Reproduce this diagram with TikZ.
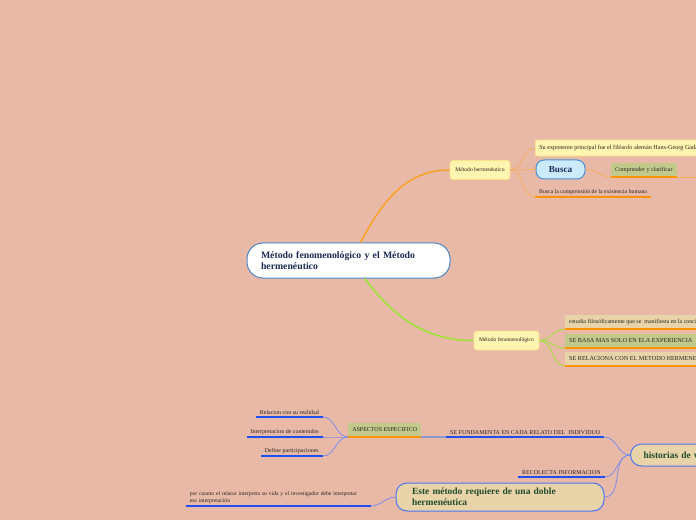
\documentclass[tikz,border=0pt]{standalone}
\usepackage{fontspec}
\setmainfont{Liberation Serif}
\definecolor{bg}{HTML}{E8B9A7}
\definecolor{navy}{HTML}{1B2A55}
\definecolor{dkgreen}{HTML}{1F4A2C}
\definecolor{cblue}{HTML}{4A86C8}
\definecolor{orng}{HTML}{F7A125}
\definecolor{orthin}{HTML}{F6AE55}
\definecolor{oul}{HTML}{FF9400}
\definecolor{lime}{HTML}{9AE62E}
\definecolor{yfill}{HTML}{FFF4B0}
\definecolor{ydraw}{HTML}{FCE38A}
\definecolor{bfill}{HTML}{CBEBFC}
\definecolor{bdraw}{HTML}{4C8FD6}
\definecolor{gfill}{HTML}{C2C98B}
\definecolor{tfill}{HTML}{E8D4A8}
\definecolor{bul}{HTML}{1E50F0}
\definecolor{bcurve}{HTML}{7F8FE8}
\definecolor{gline}{HTML}{8C9AD0}
\definecolor{txt}{HTML}{2B2320}
\newcommand\smallf{\fontsize{6}{7.5}\selectfont}
\begin{document}
\begin{tikzpicture}[x=1bp,y=-1bp,
  central/.style={draw=cblue,line width=1bp,fill=white,rounded corners=16bp,text width=175bp,align=left,inner xsep=14bp,minimum height=35bp,font=\bfseries\fontsize{9.8}{11.5}\selectfont,text=navy},
  ybox/.style={fill=yfill,draw=ydraw,line width=0.8bp,rounded corners=3bp,minimum height=19bp,inner xsep=3bp,font=\fontsize{5.6}{7}\selectfont,text=txt},
  sbox/.style={fill=yfill,draw=ydraw,line width=0.6bp,rounded corners=2bp,minimum height=16bp,inner xsep=4bp,font=\fontsize{6.2}{7.5}\selectfont,text=txt},
  bubox/.style={fill=bfill,draw=bdraw,line width=1bp,rounded corners=8bp,minimum width=49bp,minimum height=19bp,font=\bfseries\fontsize{9.2}{10}\selectfont,text=navy},
  gbox/.style={fill=gfill,minimum height=14bp,inner xsep=4bp,inner ysep=0bp,font=\smallf,text=txt},
  tbox/.style={fill=tfill,minimum height=14bp,inner xsep=4bp,inner ysep=0bp,font=\smallf,text=txt},
  ul/.style={inner xsep=4bp,inner ysep=2.5bp,font=\smallf,text=txt},
  hvbox/.style={fill=tfill,draw=bul!80!white,line width=1bp,rounded corners=11bp,font=\bfseries\fontsize{9.5}{11}\selectfont,text=dkgreen},
  omain/.style={draw=orng,line width=1.5bp},
  othin/.style={draw=orthin,line width=0.7bp},
  oline/.style={draw=oul,line width=1.8bp},
  lmain/.style={draw=lime,line width=1.5bp},
  lthin/.style={draw=lime,line width=0.7bp},
  bline/.style={draw=bul,line width=1.5bp},
  bthin/.style={draw=bcurve,line width=0.8bp}
]
\useasboundingbox (0,0) rectangle (696,520);
\clip (0,0) rectangle (696,520);
\fill[bg] (0,0) rectangle (696,520);

% central
\node[central] (c) at (348.5,260.5) {Método fenomenológico y el Método\\hermenéutico};

% hermeneutic branch
\node[ybox,minimum width=60bp] (mh) at (480,170) {Método hermenéutico};
\draw[omain] ([xshift=12bp]c.north) to[out=62,in=180] (mh.west);

\node[sbox,anchor=west] (se) at (535,148) {Su exponente principal fue el filósofo alemán Hans-Georg Gadamer};
\node[bubox] (bu) at (560.5,169.5) {Busca};
\node[gbox,minimum width=65bp,anchor=south west] (cc) at (611,177) {Comprender y clarificar};
\node[ul,anchor=south west,font=\fontsize{5.8}{7}\selectfont] (bl) at (535,197) {Busca la comprensión de la existencia humana};
\coordinate (ccr) at (696,177);

\draw[othin] (mh.east) to[out=0,in=180] (se.west);
\draw[othin] (mh.east) -- (bu.west);
\draw[othin] (mh.east) to[out=0,in=180] (bl.south west);
\draw[othin] (bu.east) to[out=0,in=180] (cc.south west);
\draw[oline] (cc.south west) -- (cc.south east);
\draw[othin] (cc.south east) -- (ccr);
\draw[oline] (bl.south west) -- (bl.south east);

% phenomenological branch
\node[ybox,minimum width=65bp] (mf) at (506.5,340.5) {Método fenomenológico};
\draw[lmain] ([xshift=16bp]c.south) to[out=-52,in=180] (mf.west);

\node[tbox,anchor=south west] (b1) at (565,329) {estudia filosóficamente que se\ \ manifiesta en la conciencia};
\node[gbox,anchor=south west,font=\fontsize{6.2}{7.5}\selectfont] (b2) at (565,348) {SE BASA MAS SOLO EN ELA EXPERIENCIA};
\node[tbox,anchor=south west,font=\fontsize{6.2}{7.5}\selectfont] (b3) at (565,366) {SE RELACIONA CON EL METODO HERMENEUTICO};
\draw[lthin] (mf.east) to[out=0,in=180] (b1.south west);
\draw[lthin] (mf.east) to[out=0,in=180] (b2.south west);
\draw[lthin] (mf.east) to[out=0,in=180] (b3.south west);
\draw[oline] (b1.south west) -- (b1.south east);
\draw[oline] (b2.south west) -- (b2.south east);
\draw[oline] (b3.south west) -- (b3.south east);

% life stories
\node[hvbox,anchor=west,minimum height=22bp,inner xsep=13bp,text width=80bp,align=left] (hv) at (630,455) {historias de vida};
\node[ul,anchor=south west] (sf) at (446,437) {SE FUNDAMENTA EN CADA RELATO DEL\ \ INDIVIDUO};
\node[ul,anchor=south west] (rc) at (518,477) {RECOLECTA INFORMACION};
\node[hvbox,minimum height=28bp,inner xsep=16bp,text width=176bp,align=left] (em) at (500,497) {Este método requiere de una doble\\hermenéutica};
\draw[bthin] (hv.west) to[out=180,in=0] (sf.south east);
\draw[bthin] (hv.west) to[out=180,in=0] (rc.south east);
\draw[bthin] (hv.west) to[out=180,in=0] (em.east);
\draw[bline] (sf.south west) -- (sf.south east);
\draw[bline] (rc.south west) -- (rc.south east);

\node[gbox,anchor=south west,minimum width=73bp] (as) at (348,437) {ASPECTOS ESPECIFICO};
\draw[draw=gline,line width=1.5bp] (sf.south west) -- (as.south east);
\draw[oline] (as.south west) -- (as.south east);

\node[ul,anchor=south east] (r1) at (323,417) {Relacion con su realidad};
\node[ul,anchor=south east] (r2) at (323,437) {Interpretacion de contenidos};
\node[ul,anchor=south east] (r3) at (323,456) {Define participaciones};
\draw[bthin] (as.south west) to[out=180,in=0] (r1.south east);
\draw[bthin] (as.south west) to[out=180,in=0] (r2.south east);
\draw[bthin] (as.south west) to[out=180,in=0] (r3.south east);
\draw[bline] (r1.south west) -- (r1.south east);
\draw[bline] (r2.south west) -- (r2.south east);
\draw[bline] (r3.south west) -- (r3.south east);

\node[ul,anchor=south east,text width=177bp,align=left,font=\fontsize{5.65}{6.8}\selectfont] (pc) at (371,506) {por cuanto el relator interpreta su vida y el investigador debe interpretar\\esa interpretación};
\draw[bthin] (em.west) to[out=180,in=0] (pc.south east);
\draw[bline] (pc.south west) -- (pc.south east);
\end{tikzpicture}
\end{document}
